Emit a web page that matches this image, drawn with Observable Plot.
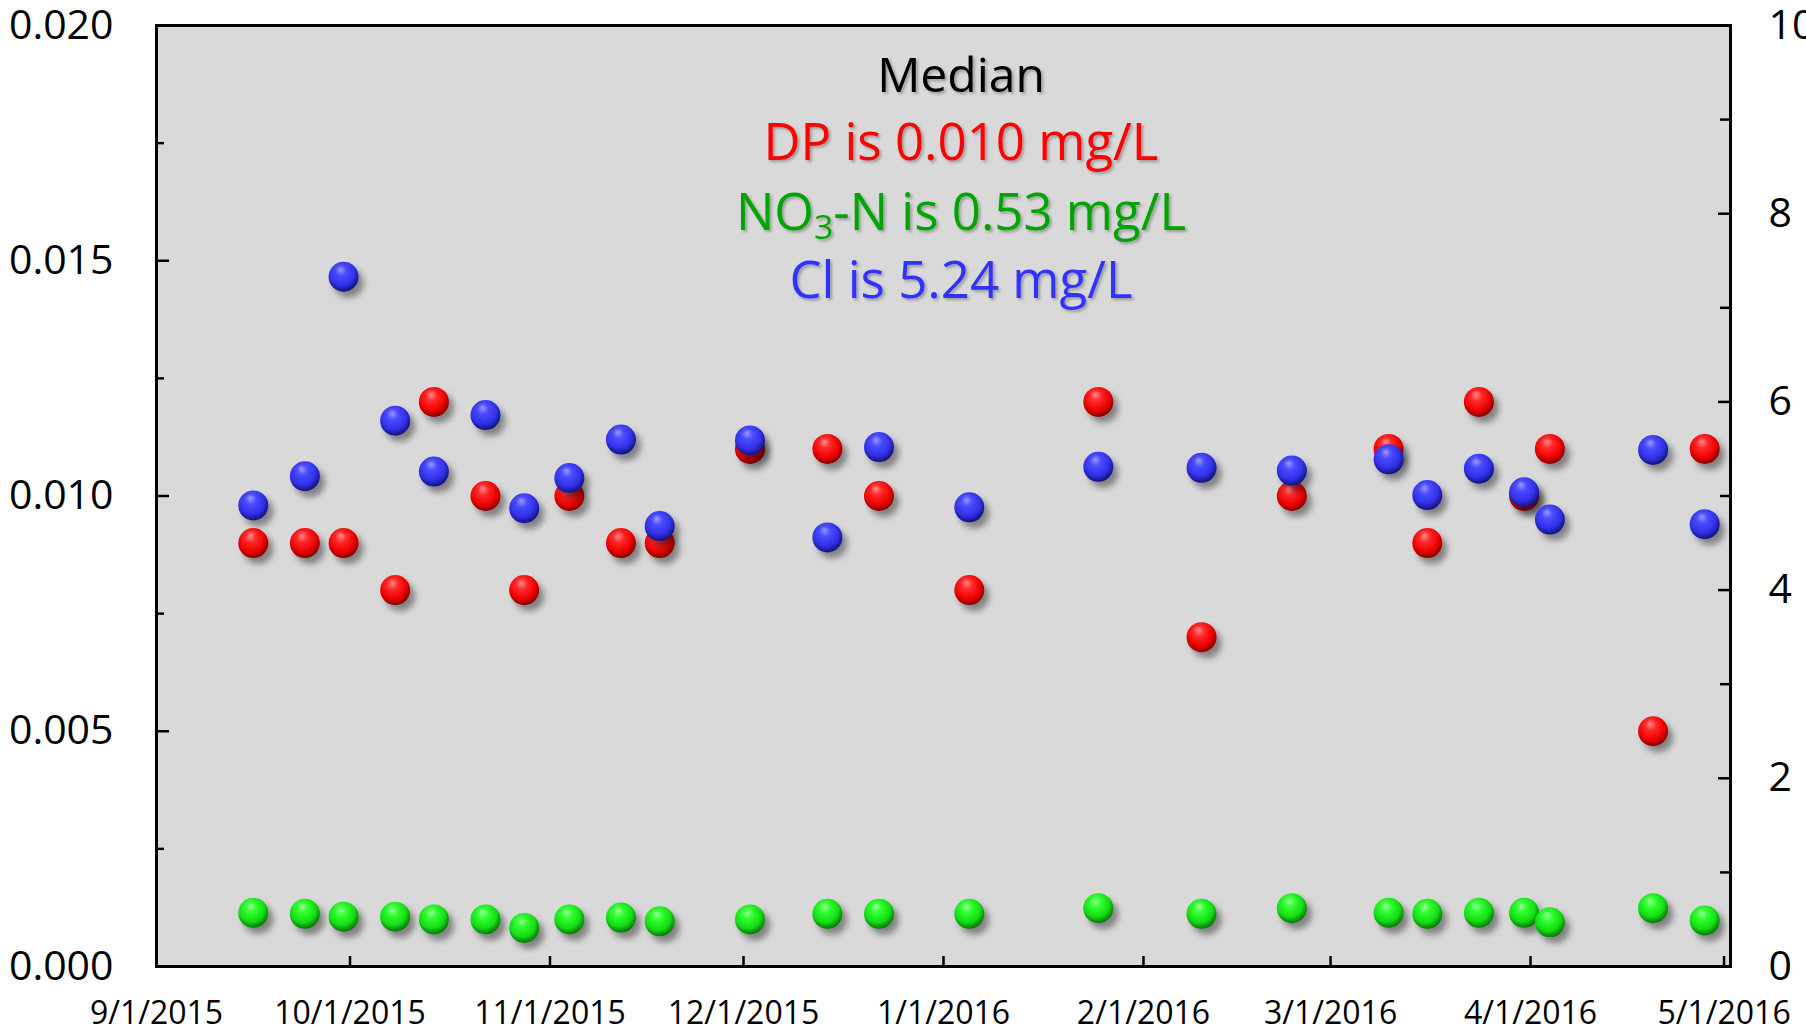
<!DOCTYPE html>
<html><head><meta charset="utf-8">
<script src="https://cdn.jsdelivr.net/npm/d3@7"></script>
<script src="https://cdn.jsdelivr.net/npm/@observablehq/plot@0.6"></script>
<style>
html,body{margin:0;padding:0;background:#fff;}
#chart{position:relative;width:1806px;height:1025px;overflow:hidden;}
#chart svg{display:block;}
</style></head><body><div id="chart"></div>
<script>
// ---- data ----
const dates = ["2015-09-16","2015-09-24","2015-09-30","2015-10-08","2015-10-14","2015-10-22","2015-10-28","2015-11-04","2015-11-12","2015-11-18","2015-12-02","2015-12-14","2015-12-22","2016-01-05","2016-01-25","2016-02-10","2016-02-24","2016-03-10","2016-03-16","2016-03-24","2016-03-31","2016-04-04","2016-04-20","2016-04-28"];
const dpValues = [0.009,0.009,0.009,0.008,0.012,0.010,0.008,0.010,0.009,0.009,0.011,0.011,0.010,0.008,0.012,0.007,0.010,0.011,0.009,0.012,0.010,0.011,0.005,0.011];
const no3nValues = [0.57,0.56,0.53,0.53,0.50,0.50,0.41,0.50,0.52,0.48,0.50,0.56,0.56,0.56,0.62,0.56,0.62,0.57,0.56,0.57,0.57,0.47,0.62,0.49];
const clValues = [4.90,5.21,7.33,5.80,5.26,5.86,4.87,5.19,5.60,4.68,5.59,4.56,5.52,4.88,5.31,5.30,5.27,5.39,5.01,5.29,5.04,4.75,5.49,4.70];
const leftTicks = [0, 0.005, 0.010, 0.015, 0.020];
const leftMinorTicks = [0.0025, 0.0075, 0.0125, 0.0175];
const rightTicks = [0, 2, 4, 6, 8, 10];
const rightMinorTicks = [1, 3, 5, 7, 9];
const xStart = "2015-09-01", xEnd = "2016-05-02";
const medianLines = [
  {text: "Median", color: "#000000"},
  {text: "DP is 0.010 mg/L", color: "#ff0000"},
  {text: "NO|3|-N is 0.53 mg/L", color: "#00a400"},
  {text: "Cl is 5.24 mg/L", color: "#3333ff"}
];

// ---- chart ----
const leftMax = 0.02, rightMax = 10;
const k = leftMax / rightMax;
const parse = d3.utcParse("%Y-%m-%d");
const rows = dates.map((d, i) => ({date: parse(d), dp: dpValues[i], no3: no3nValues[i], cl: clValues[i]}));
const W = 1806, H = 1025, mL = 156, mR = 76, mT = 25, mB = 59;
const innerW = W - mL - mR, innerH = H - mT - mB;
const monthTicks = d3.utcMonth.range(parse(xStart), parse(xEnd));
const innerMonths = monthTicks.slice(1);
const fmt = d => `${d.getUTCMonth() + 1}/${d.getUTCDate()}/${d.getUTCFullYear()}`;
const FONT = "'Open Sans', sans-serif";

const plot = Plot.plot({
  width: W, height: H,
  marginLeft: mL, marginRight: mR, marginTop: mT, marginBottom: mB,
  style: {fontFamily: FONT, color: "#000", background: "transparent", overflow: "visible"},
  x: {type: "utc", domain: [parse(xStart), parse(xEnd)]},
  y: {domain: [0, leftMax]},
  marks: [
    Plot.frame({fill: "#d9d9d9", stroke: null}),
    Plot.tickY(leftTicks.slice(1, -1), {y: d => d, insetRight: innerW - 13, stroke: "#000", strokeWidth: 2.5}),
    Plot.tickY(leftMinorTicks, {y: d => d, insetRight: innerW - 8, stroke: "#000", strokeWidth: 2.5}),
    Plot.tickY(rightTicks.slice(1, -1), {y: d => d * k, insetLeft: innerW - 12, stroke: "#000", strokeWidth: 2.5}),
    Plot.tickY(rightMinorTicks, {y: d => d * k, insetLeft: innerW - 10, stroke: "#000", strokeWidth: 2.5}),
    Plot.tickX(innerMonths, {x: d => d, insetTop: innerH - 10, stroke: "#000", strokeWidth: 2.5}),
    Plot.dot(rows, {x: "date", y: d => d.no3 * k, r: 15, fill: "url(#gGreen)"}),
    Plot.dot(rows, {x: "date", y: "dp", r: 15, fill: "url(#gRed)"}),
    Plot.dot(rows, {x: "date", y: d => d.cl * k, r: 15, fill: "url(#gBlue)"}),
    Plot.frame({stroke: "#000", strokeWidth: 3}),
    Plot.axisX({ticks: monthTicks, tickFormat: fmt, tickSize: 0, tickPadding: 35, fontSize: 32, label: null}),
    Plot.axisY({anchor: "left", ticks: leftTicks, tickFormat: d => d.toFixed(3), tickSize: 0, tickPadding: 43, fontSize: 41, label: null}),
    Plot.axisY({anchor: "right", ticks: rightTicks.map(v => v * k), tickFormat: d => String(Math.round(d / k)), tickSize: 0, tickPadding: 38, fontSize: 41, textAnchor: "start", label: null})
  ]
});
document.getElementById("chart").appendChild(plot);

// ---- sphere gradients & shadows ----
const svg = d3.select(plot);
const defs = svg.insert("defs", ":first-child");
function sphere(id, hi, mid, main, edge) {
  const g = defs.append("radialGradient").attr("id", id)
    .attr("cx", "45%").attr("cy", "40%").attr("r", "62%").attr("fx", "40%").attr("fy", "25%");
  g.append("stop").attr("offset", "0%").attr("stop-color", hi);
  g.append("stop").attr("offset", "30%").attr("stop-color", mid);
  g.append("stop").attr("offset", "70%").attr("stop-color", main);
  g.append("stop").attr("offset", "100%").attr("stop-color", edge);
}
sphere("gRed", "#ff8c8c", "#ff2a2a", "#ee0000", "#7a0000");
sphere("gBlue", "#9a9aff", "#4a4aff", "#3030e6", "#10106e");
sphere("gGreen", "#9cff9c", "#30ff30", "#14dc14", "#066a06");
const f = defs.append("filter").attr("id", "dshadow").attr("x", "-10%").attr("y", "-10%").attr("width", "130%").attr("height", "130%");
f.append("feDropShadow").attr("dx", 5).attr("dy", 6).attr("stdDeviation", 3).attr("flood-color", "#000").attr("flood-opacity", 0.4);
const tf = defs.append("filter").attr("id", "tshadow").attr("x", "-10%").attr("y", "-20%").attr("width", "130%").attr("height", "160%");
tf.append("feDropShadow").attr("dx", 2).attr("dy", 2).attr("stdDeviation", 1.5).attr("flood-color", "#000").attr("flood-opacity", 0.3);
svg.selectAll('g[aria-label="dot"]').attr("filter", "url(#dshadow)");

// ---- median annotation ----
const baselines = [92, 160, 230, 298];
const sizes = [48, 51, 51, 51];
const ann = svg.append("g").attr("font-family", FONT).attr("text-anchor", "middle").attr("filter", "url(#tshadow)");
medianLines.forEach((line, i) => {
  const t = ann.append("text").attr("x", 961).attr("y", baselines[i]).attr("font-size", sizes[i]).attr("fill", line.color);
  const parts = line.text.split("|");
  if (parts.length === 1) { t.text(line.text); return; }
  t.append("tspan").text(parts[0]);
  t.append("tspan").attr("font-size", sizes[i] * 0.66).attr("dy", 9).text(parts[1]);
  t.append("tspan").attr("dy", -9).text(parts[2]);
});
</script>
</body></html>
